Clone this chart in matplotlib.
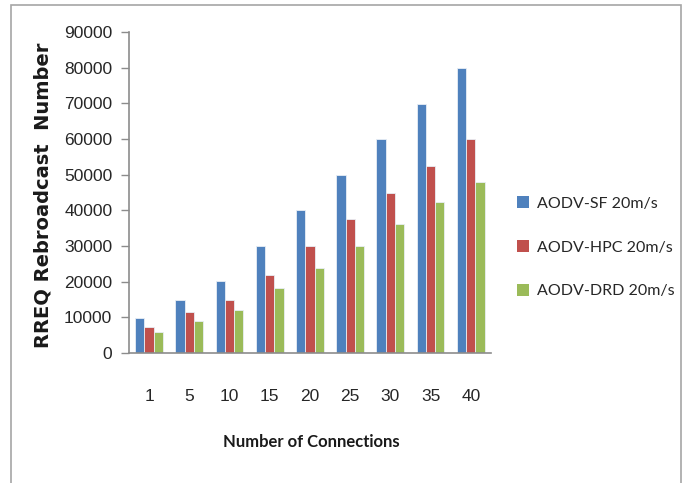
import numpy as np
import matplotlib.pyplot as plt
from matplotlib.patches import Rectangle, Patch

# Data
connections = ['1', '5', '10', '15', '20', '25', '30', '35', '40']
aodv_sf = [9800, 15000, 20100, 30000, 40000, 50000, 60000, 69800, 80000]
aodv_hpc = [7300, 11500, 15000, 22000, 30000, 37500, 44800, 52300, 60000]
aodv_drd = [5900, 9000, 12000, 18200, 23800, 30000, 36200, 42200, 47800]
series_names = ['AODV-SF 20m/s', 'AODV-HPC 20m/s', 'AODV-DRD 20m/s']
colors = ['#4F81BD', '#C0504D', '#9BBB59']

plt.rcParams['font.family'] = ['Liberation Sans', 'DejaVu Sans']

fig = plt.figure(figsize=(6.88, 4.83), dpi=100)
ax = fig.add_axes([0.1875, 0.269, 0.526, 0.665])

# outer chart border
fig.patches.append(Rectangle((0.016, -0.05), 0.974, 1.04, transform=fig.transFigure,
                             fill=False, edgecolor='#A6A6A6', linewidth=1.2))

x = np.arange(len(connections))
w = 0.23
for i, vals in enumerate([aodv_sf, aodv_hpc, aodv_drd]):
    ax.bar(x + (i - 1) * w, vals, w, color=colors[i], edgecolor='#E8EEF5',
           linewidth=0.6, label=series_names[i])

ax.set_xlim(-0.5, len(connections) - 0.5)
ax.set_ylim(0, 90000)
ax.set_yticks(np.arange(0, 90001, 10000))
ax.set_xticks(x)
ax.set_xticklabels(connections)
ax.tick_params(axis='x', length=0, pad=26, labelsize=12.5, colors='#262626')
ax.tick_params(axis='y', length=6, width=1, color='#8C8C8C', pad=6,
               labelsize=12.5, labelcolor='#262626')

for s in ['top', 'right']:
    ax.spines[s].set_visible(False)
for s in ['left', 'bottom']:
    ax.spines[s].set_color('#8C8C8C')
    ax.spines[s].set_linewidth(1.2)

fig.text(0.062, 0.596, 'RREQ Rebroadcast  Number', rotation=90, ha='center', va='center',
         fontsize=14, fontweight='bold', family=['DejaVu Sans'], color='#1a1a1a')
fig.text(0.452, 0.085, 'Number of Connections', ha='center', va='center',
         fontsize=12, fontweight='bold', family=['Lato', 'DejaVu Sans'], color='#1a1a1a')

handles = [Patch(facecolor=c) for c in colors]
fig.legend(handles, series_names, loc='center left', bbox_to_anchor=(0.752, 0.488),
           frameon=False, borderpad=0, borderaxespad=0,
           prop={'family': ['Lato', 'DejaVu Sans'], 'size': 11.5},
           handlelength=0.75, handleheight=0.75,
           handletextpad=0.45, labelspacing=1.85, labelcolor='#262626')

plt.savefig('out.png', dpi=100)
